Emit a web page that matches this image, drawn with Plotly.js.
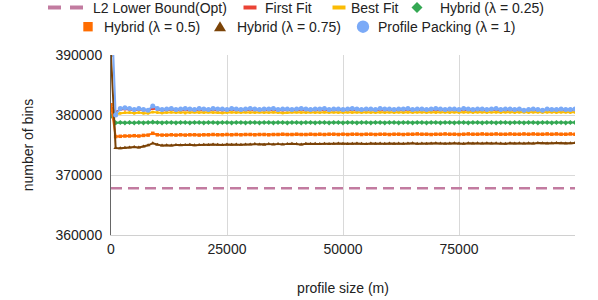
<!DOCTYPE html>
<html>
<head>
<meta charset="utf-8">
<script src="https://cdn.plot.ly/plotly-3.0.1.min.js"></script>
<style>html,body{margin:0;padding:0;background:#fff;}#chart{width:598px;height:300px;}</style>
</head>
<body>
<div id="chart"></div>
<script>
// Profile size (m)
const profileSize = [
  0,1000,2000,3000,4000,5000,6000,7000,8000,9000,
  10000,11000,12000,13000,14000,15000,16000,17000,18000,19000,
  20000,21000,22000,23000,24000,25000,26000,27000,28000,29000,
  30000,31000,32000,33000,34000,35000,36000,37000,38000,39000,
  40000,41000,42000,43000,44000,45000,46000,47000,48000,49000,
  50000,51000,52000,53000,54000,55000,56000,57000,58000,59000,
  60000,61000,62000,63000,64000,65000,66000,67000,68000,69000,
  70000,71000,72000,73000,74000,75000,76000,77000,78000,79000,
  80000,81000,82000,83000,84000,85000,86000,87000,88000,89000,
  90000,91000,92000,93000,94000,95000,96000,97000,98000,99000,100000
];

// L2 lower bound (Opt) – flat
const l2Size = [0, 100000];
const l2LowerBound = [367800, 367800];

const firstFit = [
  381300,380500,380900,381000,380900,380800,380900,380800,380700,381100,
  380900,380800,380800,380900,380800,380800,380900,380800,380800,380900,
  380800,380800,380900,380800,380800,380800,380900,380800,380800,380800,
  380900,380800,380800,380800,380900,380800,380800,380800,380900,380800,
  380800,380900,380800,380800,380800,380900,380800,380800,380800,380900,
  380800,380800,380900,380800,380800,380800,380900,380800,380800,380800,
  380900,380800,380800,380800,380900,380800,380800,380800,380900,380800,
  380800,380900,380800,380800,380800,380900,380800,380800,380700,380800,
  380800,380800,380900,380800,380800,380700,380800,380800,380700,380800,
  380700,380800,380800,380700,380800,380700,380800,380800,380700,380800,380800
];

const bestFit = [
  381000,380100,380300,380400,380400,380300,380400,380300,380300,380500,
  380400,380350,380400,380450,380400,380400,380350,380400,380450,380400,
  380400,380450,380400,380400,380350,380400,380450,380400,380400,380450,
  380400,380400,380450,380400,380400,380450,380400,380350,380400,380450,
  380450,380400,380400,380450,380400,380400,380450,380400,380450,380400,
  380400,380450,380400,380450,380400,380450,380400,380400,380450,380400,
  380450,380400,380450,380400,380450,380400,380450,380450,380400,380450,
  380400,380450,380450,380400,380450,380400,380450,380450,380400,380450,
  380450,380400,380450,380450,380400,380450,380450,380400,380450,380450,
  380400,380450,380450,380400,380450,380450,380400,380450,380450,380400,380450
];

const hybrid025 = [
  379900,378700,378750,378700,378750,378700,378750,378700,378750,378800,
  378750,378700,378750,378750,378700,378750,378750,378700,378750,378750,
  378700,378750,378750,378700,378750,378750,378700,378750,378750,378700,
  378750,378750,378700,378750,378750,378700,378750,378750,378700,378750,
  378750,378700,378750,378750,378700,378750,378750,378700,378750,378750,
  378700,378750,378750,378700,378750,378750,378700,378750,378750,378700,
  378750,378750,378700,378750,378750,378700,378750,378750,378700,378750,
  378750,378700,378750,378750,378700,378750,378750,378700,378750,378750,
  378700,378750,378750,378700,378750,378750,378700,378750,378750,378700,
  378750,378750,378700,378750,378750,378700,378750,378750,378700,378750,378750
];

const hybrid050 = [
  381700,376400,376450,376500,376500,376550,376500,376600,376650,376950,
  376700,376650,376650,376700,376650,376700,376650,376700,376700,376650,
  376700,376700,376750,376700,376700,376750,376700,376750,376700,376750,
  376750,376700,376750,376750,376700,376750,376750,376800,376750,376750,
  376800,376750,376750,376800,376750,376800,376750,376800,376800,376750,
  376800,376750,376800,376800,376750,376800,376800,376750,376800,376800,
  376750,376800,376800,376750,376800,376800,376850,376800,376800,376750,
  376800,376800,376850,376800,376800,376750,376800,376850,376800,376800,
  376850,376800,376800,376850,376800,376800,376850,376800,376800,376850,
  376800,376850,376800,376800,376850,376800,376850,376800,376800,376850,376800
];

const hybrid075 = [
  389900,374500,374450,374550,374600,374650,374600,374750,374950,375300,
  375050,374900,374950,374900,375000,374950,375000,375050,374950,375000,
  375050,375000,375100,375050,375000,375100,375050,375100,375050,375100,
  375100,375150,375100,375050,375150,375100,375150,375100,375150,375200,
  375150,375100,375200,375150,375200,375150,375200,375150,375200,375250,
  375200,375150,375200,375250,375200,375150,375250,375200,375250,375200,
  375250,375200,375250,375200,375250,375300,375200,375250,375200,375250,
  375300,375250,375200,375250,375300,375250,375200,375300,375250,375300,
  375250,375300,375250,375300,375250,375200,375300,375250,375300,375250,
  375300,375250,375350,375300,375250,375300,375350,375300,375250,375300,375350
];

const profilePacking = [
  400000,380000,381100,381200,381100,380900,381100,380900,380800,381500,
  381100,380900,381000,381100,380900,381000,381100,381000,380900,381100,
  381000,380900,381100,381000,381000,380900,381100,381000,380900,381000,
  381100,381000,380900,381000,381000,381100,380900,381000,381000,380900,
  381000,381100,381000,380900,381000,381000,381100,380900,381000,381000,
  380900,381000,381100,381000,380900,381000,381000,380900,381100,381000,
  381000,380900,381000,381000,381100,380900,381000,381000,380900,381000,
  381100,381000,380900,381000,381000,380900,381100,381000,380900,381000,
  381000,380900,381000,381100,380900,381000,381000,380900,381000,380800,
  380900,381000,380900,380800,381000,380900,380900,381000,380900,380900,381000
];

const seriesNames = ['L2 Lower Bound(Opt)','First Fit','Best Fit','Hybrid (λ = 0.25)','Hybrid (λ = 0.5)','Hybrid (λ = 0.75)','Profile Packing (λ = 1)'];
const xTickVals = [0, 25000, 50000, 75000, 100000];
const xTickText = ['0', '25000', '50000', '75000', ''];
const yTickVals = [360000, 370000, 380000, 390000];
const yTickText = ['360000', '370000', '380000', '390000'];

const C = {
  l2:'#c27ba0', ff:'#ea4335', bf:'#fbbc04', h25:'#34a853', h50:'#ff6d01', h75:'#7b4307', pp:'#7baaf7'
};
const FONT = 'Liberation Sans, Arial, sans-serif';
const TXT = '#222222';

// plot area geometry (pixels)
const M = {l:111, r:23, t:55, b:65};
const W = 598, H = 300;
const PW = W - M.l - M.r, PH = H - M.t - M.b;
const px = v => (v - M.l) / PW;          // pixel x -> paper
const py = v => (H - M.b - v) / PH;      // pixel y -> paper

function lineTrace(x, y, color, symbol, msize, name) {
  return {
    x: x, y: y, type:'scatter', mode:'lines+markers', name:name,
    showlegend:false, line:{color:color, width:2},
    marker:{color:color, symbol:symbol, size:msize}, hoverinfo:'skip'
  };
}

const data = [
  {x:l2Size, y:l2LowerBound, type:'scatter', mode:'lines', name:seriesNames[0], showlegend:false,
   line:{color:C.l2, width:2.5, dash:'11px,6px'}, hoverinfo:'skip'},
  lineTrace(profileSize, firstFit, C.ff, 'circle', 3, seriesNames[1]),
  lineTrace(profileSize, bestFit, C.bf, 'circle', 3, seriesNames[2]),
  lineTrace(profileSize, hybrid025, C.h25, 'diamond', 4, seriesNames[3]),
  lineTrace(profileSize, hybrid050, C.h50, 'square', 3.5, seriesNames[4]),
  lineTrace(profileSize, hybrid075, C.h75, 'triangle-up', 4, seriesNames[5]),
  lineTrace(profileSize, profilePacking, C.pp, 'circle', 5, seriesNames[6])
];

// Custom legend (two centred rows, like the reference)
const legendRows = [
  {y:7.5, items:[
    {i:0, kind:'dash', cx:65, tx:92},
    {i:1, kind:'bar', cx:250, tx:264},
    {i:2, kind:'bar', cx:339, tx:350},
    {i:3, kind:'diamond', cx:417, tx:439}
  ]},
  {y:26.7, items:[
    {i:4, kind:'square', cx:88, tx:103},
    {i:5, kind:'triangle', cx:220, tx:236},
    {i:6, kind:'circle', cx:363, tx:377}
  ]}
];
const legendColors = [C.l2, C.ff, C.bf, C.h25, C.h50, C.h75, C.pp];

const shapes = [];
const annotations = [];
legendRows.forEach(row => {
  row.items.forEach(it => {
    const col = legendColors[it.i];
    const y = row.y;
    if (it.kind === 'dash') {
      shapes.push({type:'line', xref:'paper', yref:'paper', x0:px(it.cx-17), x1:px(it.cx-4), y0:py(y), y1:py(y), line:{color:col, width:4}});
      shapes.push({type:'line', xref:'paper', yref:'paper', x0:px(it.cx+5), x1:px(it.cx+18), y0:py(y), y1:py(y), line:{color:col, width:4}});
    } else if (it.kind === 'bar') {
      shapes.push({type:'line', xref:'paper', yref:'paper', x0:px(it.cx-6.5), x1:px(it.cx+6.5), y0:py(y), y1:py(y), line:{color:col, width:4}});
    } else if (it.kind === 'diamond') {
      const r = 5.5;
      shapes.push({type:'path', xref:'paper', yref:'paper', fillcolor:col, line:{width:0},
        path:`M ${px(it.cx)} ${py(y-r)} L ${px(it.cx+r)} ${py(y)} L ${px(it.cx)} ${py(y+r)} L ${px(it.cx-r)} ${py(y)} Z`});
    } else if (it.kind === 'square') {
      const r = 4.7;
      shapes.push({type:'rect', xref:'paper', yref:'paper', fillcolor:col, line:{width:0},
        x0:px(it.cx-r), x1:px(it.cx+r), y0:py(y-r), y1:py(y+r)});
    } else if (it.kind === 'triangle') {
      shapes.push({type:'path', xref:'paper', yref:'paper', fillcolor:col, line:{width:0},
        path:`M ${px(it.cx)} ${py(y-5.5)} L ${px(it.cx+6)} ${py(y+4.5)} L ${px(it.cx-6)} ${py(y+4.5)} Z`});
    } else if (it.kind === 'circle') {
      const r = 6.2;
      shapes.push({type:'circle', xref:'paper', yref:'paper', fillcolor:col, line:{width:0},
        x0:px(it.cx-r), x1:px(it.cx+r), y0:py(y-r), y1:py(y+r)});
    }
    annotations.push({text:seriesNames[it.i], xref:'paper', yref:'paper', x:px(it.tx), y:py(y),
      xanchor:'left', yanchor:'middle', showarrow:false, borderpad:0,
      font:{family:FONT, size:14, color:TXT}});
  });
});

const layout = {
  width:W, height:H,
  margin:M,
  paper_bgcolor:'#ffffff', plot_bgcolor:'#ffffff',
  font:{family:FONT, size:14, color:TXT},
  showlegend:false,
  shapes:shapes,
  annotations:annotations,
  xaxis:{
    range:[0,100000], tickmode:'array', tickvals:xTickVals, ticktext:xTickText,
    showgrid:true, gridcolor:'#d9d9d9', gridwidth:1, zeroline:false,
    showline:true, linecolor:'#d0d0d0', linewidth:1, ticks:'', ticklabelstandoff:1,
    tickfont:{family:FONT, size:14, color:TXT},
    title:{text:'profile size (m)', font:{family:FONT, size:14, color:TXT}, standoff:27}
  },
  yaxis:{
    range:[360000,390000], tickmode:'array', tickvals:yTickVals, ticktext:yTickText,
    showgrid:true, gridcolor:'#d9d9d9', gridwidth:1, zeroline:false,
    showline:true, linecolor:'#666666', linewidth:1, ticks:'', ticklabelstandoff:5,
    tickfont:{family:FONT, size:14, color:TXT},
    title:{text:'number of bins', font:{family:FONT, size:14, color:TXT}, standoff:18}
  }
};

Plotly.newPlot('chart', data, layout, {staticPlot:true, displayModeBar:false});
</script>
</body>
</html>
